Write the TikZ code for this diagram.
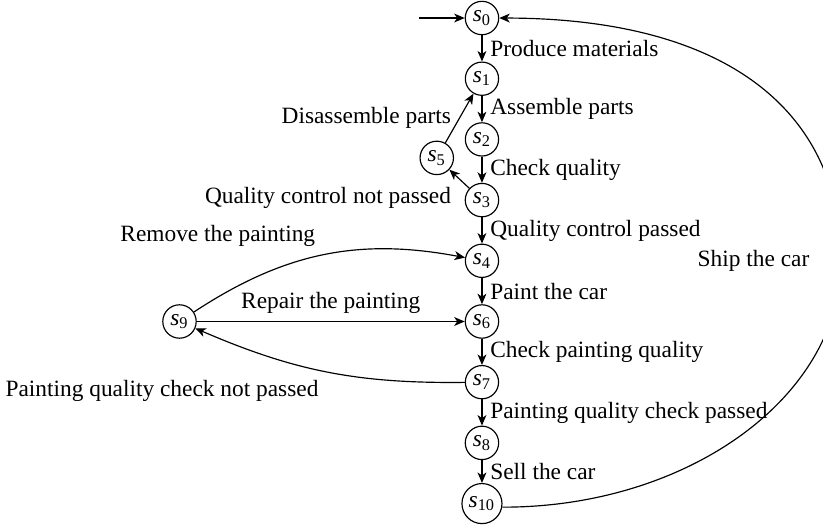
\documentclass[tikz,border=0pt]{standalone}
\usepackage{fontspec}
\setmainfont{Liberation Serif}[ItalicFont={Liberation Serif Italic}]
\usetikzlibrary{arrows.meta}

\newcommand{\stlabel}[1]{\textit{s}\textsubscript{#1}}

\begin{document}
\begin{tikzpicture}[>={Stealth[length=4.5pt, width=3.8pt, inset=1.3pt]}, line width=0.5pt,
  stnode/.style={circle, draw, inner sep=1.5pt},
  trans/.style={->}]

% Frame
\useasboundingbox (0,0) rectangle (12.38,7.925);

% --- Main production line ---
\node[stnode] (s0) at (7.25,7.654) {\stlabel{0}};
\node[stnode] (s1) at (7.25,6.741) {\stlabel{1}};
\node[stnode] (s2) at (7.25,5.828) {\stlabel{2}};
\node[stnode] (s3) at (7.25,4.915) {\stlabel{3}};
\node[stnode] (s4) at (7.25,4.002) {\stlabel{4}};
\node[stnode] (s6) at (7.25,3.089) {\stlabel{6}};
\node[stnode] (s7) at (7.25,2.176) {\stlabel{7}};
\node[stnode] (s8) at (7.25,1.263) {\stlabel{8}};
\node[stnode] (s10) at (7.25,0.350) {\stlabel{10}};

% Side states
\node[stnode] (s5) at (6.57,5.55) {\stlabel{5}};
\node[stnode] (s9) at (2.70,3.089) {\stlabel{9}};

% Initial arrow
\coordinate (init) at (6.30,7.654);
\draw[trans] (init) -- (s0);

% Straight transitions
\draw[trans] (s0) -- node[right] (t01) {Produce materials} (s1);
\draw[trans] (s1) -- node[right] (t12) {Assemble parts} (s2);
\draw[trans] (s2) -- node[right] (t23) {Check quality} (s3);
\draw[trans] (s3) -- node[right] (t34) {Quality control passed} (s4);
\draw[trans] (s4) -- node[right] (t46) {Paint the car} (s6);
\draw[trans] (s6) -- node[right] (t67) {Check painting quality} (s7);
\draw[trans] (s7) -- node[right] (t78) {Painting quality check passed} (s8);
\draw[trans] (s8) -- node[right] (t810) {Sell the car} (s10);

% Quality loop
\draw[trans] (s3) -- node[below left] (t35) {Quality control not passed} (s5);
\draw[trans] (s5) -- node[left] (t51) {Disassemble parts} (s1);

% Painting loop
\draw[trans] (s9) to[bend left=22] node[above left] (t94) {Remove the painting} (s4);
\draw[trans] (s9) -- node[above] (t96) {Repair the painting} (s6);
\draw[trans] (s7) to[bend left=12] node[below left] (t79) {Painting quality check not passed} (s9);

% Back to the start
\coordinate (shipmid) at (12.65,4.0);
\draw[trans] (s10.-10) .. controls (10.34,0.29) and (12.65,1.95) .. (shipmid)
  node[left=3.5mm] (t100) {Ship the car}
  .. controls (12.65,6.2) and (11.0,7.65) .. (s0);

\end{tikzpicture}
\end{document}
